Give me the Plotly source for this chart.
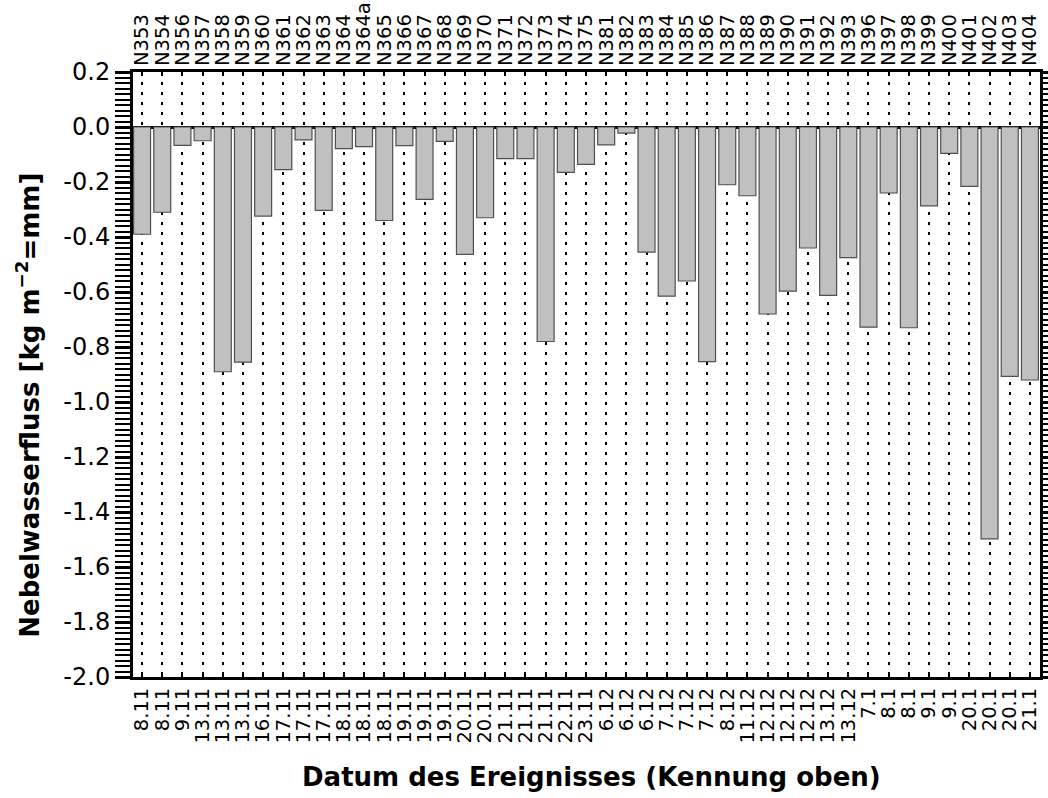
import plotly.graph_objects as go

# ---------------- data ----------------
event_ids = ["N353", "N354", "N356", "N357", "N358", "N359", "N360", "N361", "N362", "N363",
             "N364", "N364a", "N365", "N366", "N367", "N368", "N369", "N370", "N371", "N372",
             "N373", "N374", "N375", "N381", "N382", "N383", "N384", "N385", "N386", "N387",
             "N388", "N389", "N390", "N391", "N392", "N393", "N396", "N397", "N398", "N399",
             "N400", "N401", "N402", "N403", "N404"]

event_dates = ["8.11", "8.11", "9.11", "13.11", "13.11", "13.11", "16.11", "17.11", "17.11", "17.11",
               "18.11", "18.11", "18.11", "19.11", "19.11", "19.11", "20.11", "20.11", "21.11", "21.11",
               "21.11", "22.11", "23.11", "6.12", "6.12", "6.12", "7.12", "7.12", "7.12", "8.12",
               "11.12", "12.12", "12.12", "12.12", "13.12", "13.12", "7.1", "8.1", "8.1", "9.1",
               "9.1", "20.1", "20.1", "20.1", "21.1"]

fog_flux = [-0.39, -0.31, -0.067, -0.05, -0.89, -0.855, -0.324, -0.155, -0.047, -0.303,
            -0.079, -0.071, -0.34, -0.068, -0.263, -0.052, -0.463, -0.33, -0.115, -0.115,
            -0.78, -0.165, -0.136, -0.065, -0.022, -0.455, -0.615, -0.56, -0.853, -0.21,
            -0.25, -0.68, -0.597, -0.44, -0.612, -0.475, -0.728, -0.24, -0.73, -0.287,
            -0.096, -0.216, -1.498, -0.907, -0.92]

y_tick_labels = ["0.2", "0.0", "-0.2", "-0.4", "-0.6", "-0.8", "-1.0", "-1.2",
                 "-1.4", "-1.6", "-1.8", "-2.0"]

x_title = "Datum des Ereignisses (Kennung oben)"
y_title = "Nebelwasserfluss [kg m<sup>−2</sup>=mm]"

# ---------------- figure ----------------
positions = list(range(len(event_ids)))
y_tick_values = [float(t) for t in y_tick_labels]

FONT = "DejaVu Sans"

fig = go.Figure()
fig.add_trace(go.Bar(
    x=positions, y=fog_flux, width=0.84,
    marker=dict(color="#c0c0c0", line=dict(color="#505050", width=1.2)),
    showlegend=False, hoverinfo="skip",
))
# helper trace so that the top axis (event IDs) is drawn
fig.add_trace(go.Scatter(
    x=positions, y=[0] * len(positions), mode="none",
    xaxis="x2", yaxis="y", showlegend=False, hoverinfo="skip",
))

x_range = [-0.45, 44.5]

fig.update_layout(
    template="none",
    width=1048, height=798,
    margin=dict(l=133, r=8, t=72, b=121, autoexpand=False),
    paper_bgcolor="white", plot_bgcolor="white",
    font=dict(family=FONT, color="black"),
    xaxis=dict(
        range=x_range, tickmode="array", tickvals=positions, ticktext=event_dates,
        tickangle=-90, ticks="inside", ticklen=4, tickwidth=1.5, tickcolor="black",
        tickfont=dict(family=FONT, size=19.5, color="black"),
        showline=True, linewidth=3, linecolor="black", mirror=True,
        showgrid=True, gridcolor="black", gridwidth=2, griddash="3px,7px",
        zeroline=False, automargin=False,
    ),
    xaxis2=dict(
        range=x_range, overlaying="x", side="top", tickmode="array",
        tickvals=positions, ticktext=event_ids, tickangle=-90,
        ticks="inside", ticklen=4, tickwidth=1.5, tickcolor="black",
        tickfont=dict(family=FONT, size=19.5, color="black"),
        ticklabelstandoff=5,
        showline=False, showgrid=False, zeroline=False, automargin=False,
    ),
    yaxis=dict(
        range=[-2.0, 0.2], tickmode="array", tickvals=y_tick_values, ticktext=y_tick_labels,
        ticks="outside", ticklen=15, tickwidth=2.5, tickcolor="black",
        tickfont=dict(family=FONT, size=24, color="black"),
        minor=dict(dtick=0.02, tick0=0, ticks="outside", ticklen=8, tickwidth=2, tickcolor="black"),
        showline=True, linewidth=3, linecolor="black", mirror="allticks",
        showgrid=False, zeroline=True, zerolinecolor="black", zerolinewidth=3,
        automargin=False,
    ),
    annotations=[
        dict(text=x_title, xref="paper", yref="paper", x=0.506, y=-0.165,
             xanchor="center", yanchor="middle", showarrow=False,
             font=dict(family=FONT, size=26, color="black", weight="bold")),
        dict(text=y_title, xref="paper", yref="paper", x=-0.1158, y=0.45,
             xanchor="center", yanchor="middle", showarrow=False, textangle=-90,
             font=dict(family=FONT, size=26, color="black", weight="bold")),
    ],
)

fig.write_html(
    "out.html",
    config={"displayModeBar": False},
    post_script="document.body.style.margin='0';document.body.style.overflow='hidden';",
)
